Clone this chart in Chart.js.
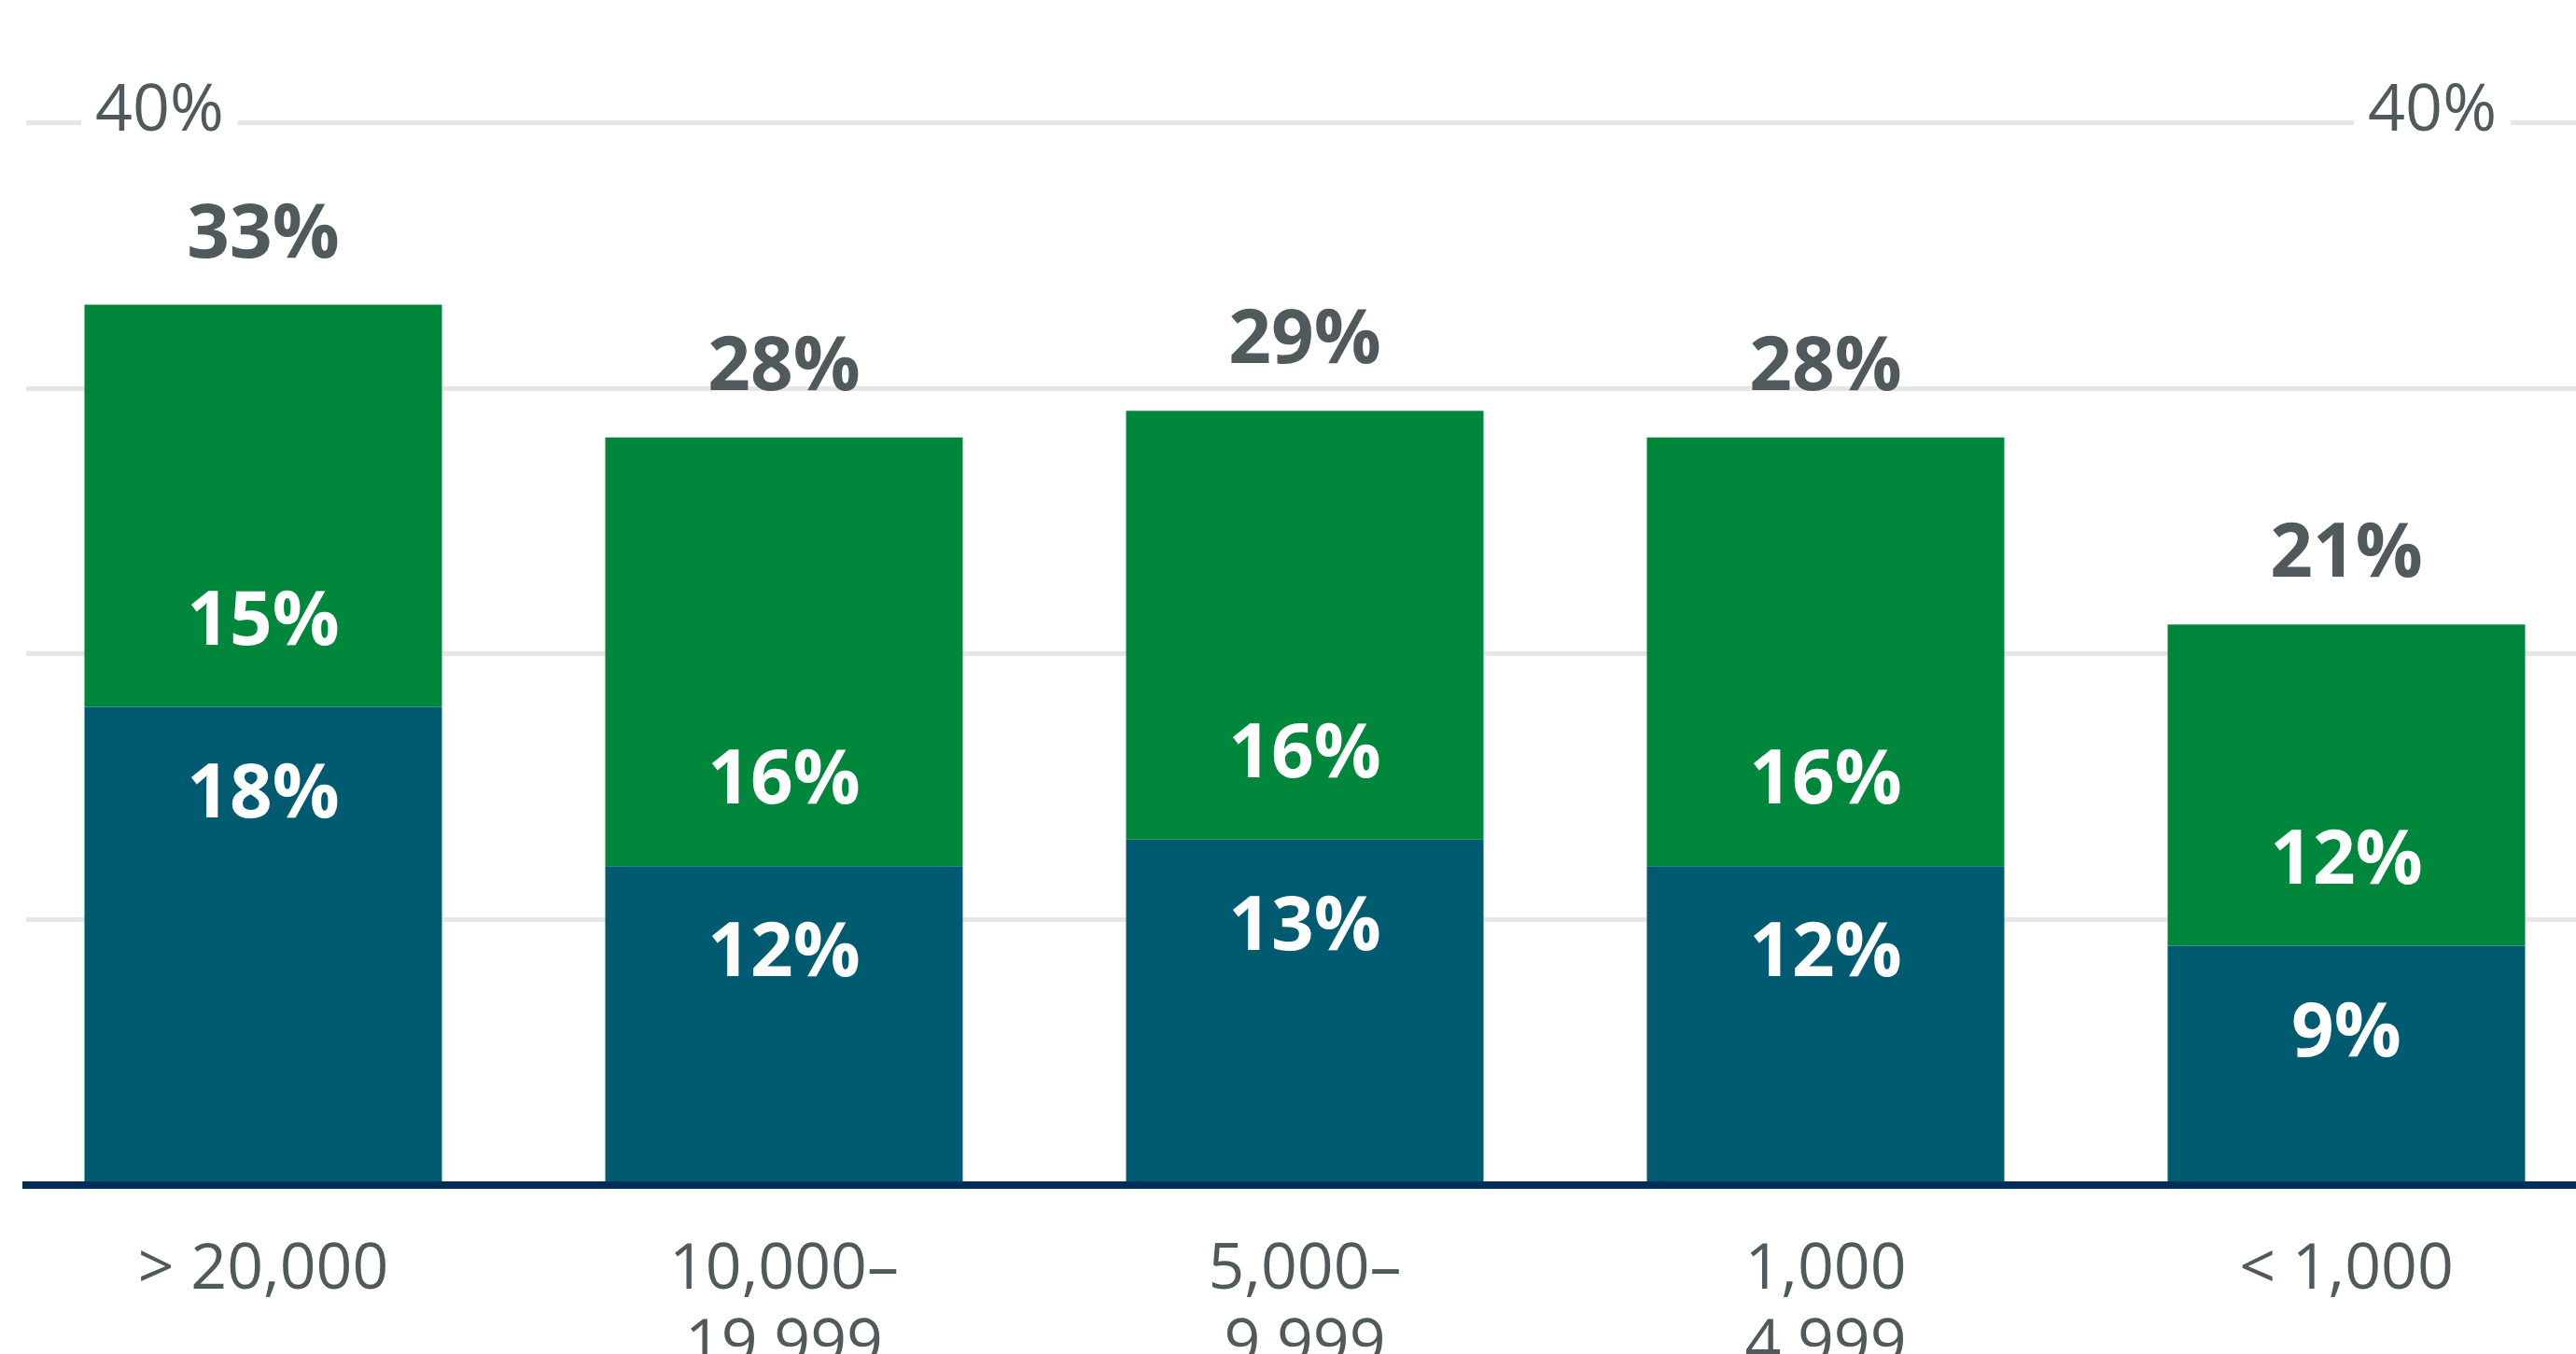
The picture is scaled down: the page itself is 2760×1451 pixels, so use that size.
<!DOCTYPE html>
<html>
<head>
<meta charset="utf-8">
<script src="https://cdn.jsdelivr.net/npm/chart.js@4.4.1/dist/chart.umd.min.js"></script>
<style>
    html, body { margin: 0; padding: 0; background: #fff; overflow: hidden; }
    #wrap { width: 2760px; height: 1480px; }
</style>
</head>
<body>
<div id="wrap"><canvas id="chart" width="2760" height="1480"></canvas></div>
<script>
const categories = ["> 20,000", ["10,000–", "19,999"], ["5,000–", "9,999"], ["1,000", "4,999"], "< 1,000"];
const lowerShare = [18, 12, 13, 12, 9];
const upperShare = [15.15, 16.15, 16.15, 16.15, 12.1];
const yTicks = [0, 10, 20, 30, 40];
const labelledTick = 40;

const TEXT = "#505a5c";
const FONT = "'Open Sans', sans-serif";

// value labels drawn on top of the bars
const barLabels = {
    id: "barLabels",
    afterDatasetsDraw(chart) {
        const ctx = chart.ctx;
        const lower = chart.getDatasetMeta(0).data;
        const upper = chart.getDatasetMeta(1).data;
        ctx.save();
        ctx.textAlign = "center";
        ctx.textBaseline = "alphabetic";
        ctx.font = "bold 80px " + FONT;
        lower.forEach((bar, i) => {
            const top = upper[i];
            ctx.fillStyle = "#ffffff";
            ctx.fillText(Math.round(lowerShare[i]) + "%", bar.x, bar.y + 118);
            ctx.fillText(Math.round(upperShare[i]) + "%", top.x, top.base - 67);
            ctx.fillStyle = TEXT;
            ctx.fillText(Math.round(lowerShare[i] + upperShare[i]) + "%", top.x, top.y - 51);
        });
        ctx.restore();
    },
};

function yAxis(position, padding, showGrid) {
    return {
        position,
        min: 0,
        max: 40,
        stacked: true,
        afterBuildTicks: (scale) => {
            scale.ticks = yTicks.map((v) => ({ value: v }));
        },
        // labels sit inside the plot, so the axis itself takes no room
        afterFit: (scale) => {
            scale.width = 0;
        },
        border: { display: false },
        grid: { display: showGrid, color: "#e6e6e6", lineWidth: 5, drawTicks: false },
        ticks: {
            mirror: true,
            padding,
            labelOffset: -12,
            color: TEXT,
            font: { family: FONT, size: 70 },
            callback: (v) => (v === labelledTick ? v + "%" : ""),
            showLabelBackdrop: (c) => !!c.tick && c.tick.value === labelledTick,
            backdropColor: "#ffffff",
            backdropPadding: { left: 15, right: 15, top: 4, bottom: 4 },
        },
    };
}

const toPoints = (arr) => arr.map((v, i) => ({ x: i, y: v }));

new Chart(document.getElementById("chart").getContext("2d"), {
    type: "bar",
    data: {
        datasets: [
            {
                label: "lower",
                data: toPoints(lowerShare),
                backgroundColor: "#005b70",
                barPercentage: 0.6864,
                categoryPercentage: 1,
            },
            {
                label: "upper",
                data: toPoints(upperShare),
                backgroundColor: "#00873b",
                barPercentage: 0.6864,
                categoryPercentage: 1,
            },
        ],
    },
    options: {
        responsive: false,
        animation: false,
        layout: { padding: { top: 131.7, left: 28, right: 0, bottom: 0 } },
        plugins: { legend: { display: false }, tooltip: { enabled: false } },
        scales: {
            x: {
                type: "linear",
                stacked: true,
                offset: false,
                bounds: "data",
                min: -0.4552,
                max: 4.4409,
                afterBuildTicks: (scale) => {
                    scale.ticks = categories.map((_, i) => ({ value: i }));
                },
                afterFit: (scale) => {
                    scale.height = 210.4;
                },
                grid: { display: false, drawTicks: false, offset: false },
                border: { display: true, color: "#002e56", width: 8, z: 1 },
                ticks: {
                    padding: 52,
                    autoSkip: false,
                    maxRotation: 0,
                    color: TEXT,
                    font: { family: FONT, size: 68, lineHeight: 1.19 },
                    callback: (v) => categories[v],
                },
            },
            y: yAxis("left", 74, true),
            // mirrored right-hand labels are placed at left + padding
            y2: yAxis("right", -85, false),
        },
    },
    plugins: [barLabels],
});
</script>
</body>
</html>
